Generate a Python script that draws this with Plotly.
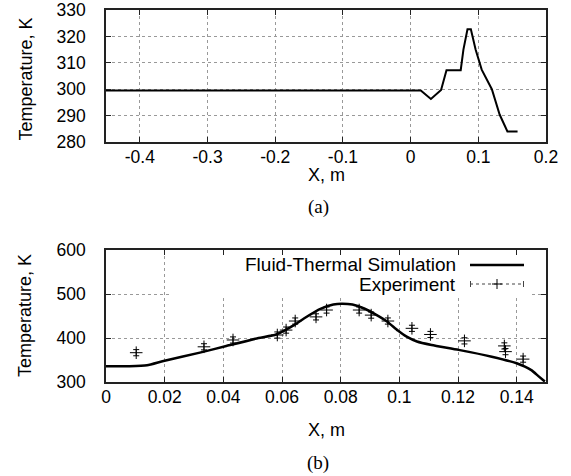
import plotly.graph_objects as go

W, H = 571, 476

# ---- data: panel (a) ----
a_x = [-0.45, 0.015, 0.03, 0.045, 0.053, 0.074, 0.078, 0.084, 0.089, 0.096, 0.105, 0.12, 0.1315, 0.143, 0.158]
a_T = [299.5, 299.5, 296.3, 299.7, 307.2, 307.2, 315, 322.7, 322.7, 315, 307.4, 300, 290.4, 284, 284]
a_xticks = [-0.4, -0.3, -0.2, -0.1, 0, 0.1, 0.2]
a_xticktext = ["-0.4", "-0.3", "-0.2", "-0.1", "0", "0.1", "0.2"]
a_yticks = [280, 290, 300, 310, 320, 330]

# ---- data: panel (b) ----
sim_x = [0.0, 0.008, 0.014, 0.0196, 0.032, 0.041, 0.052, 0.058, 0.0645, 0.0676, 0.0733, 0.0775,
         0.0803, 0.084, 0.088, 0.092, 0.0959, 0.0995, 0.1025, 0.106, 0.111, 0.1202, 0.1315, 0.14,
         0.145, 0.1473, 0.1496]
sim_T = [336, 336, 338, 347.7, 366.7, 381.8, 400, 408, 431, 445, 467, 476,
         478, 476, 467, 453, 437, 417, 403, 392, 384, 373, 357.5, 342.5,
         327, 314, 301]
exp_x = [0.0103, 0.0334, 0.0433, 0.0584, 0.0614, 0.0645, 0.0716, 0.0752, 0.0863, 0.0904, 0.0961,
         0.1043, 0.1106, 0.1222, 0.1358, 0.1362, 0.1422]
exp_T = [366.6, 380, 395.5, 406.8, 418, 438.6, 448, 463.6, 463.6, 452, 438.6,
         422, 408, 393.5, 382, 369, 352]
exp_err = [7] * len(exp_x)
b_xticks = [0, 0.02, 0.04, 0.06, 0.08, 0.1, 0.12, 0.14]
b_xticktext = ["0", "0.02", "0.04", "0.06", "0.08", "0.1", "0.12", "0.14"]
b_yticks = [300, 400, 500, 600]

FONT = "Liberation Sans, Arial, sans-serif"
SERIF = "Liberation Serif, Times New Roman, serif"

def px(x):
    return x / W

def py(y):
    return 1 - y / H

fig = go.Figure()
fig.add_trace(go.Scatter(x=a_x, y=a_T, mode="lines", line=dict(color="black", width=2),
                         xaxis="x", yaxis="y", showlegend=False))
fig.add_trace(go.Scatter(x=sim_x, y=sim_T, mode="lines", line=dict(color="black", width=2.5, shape="spline", smoothing=0.5),
                         xaxis="x2", yaxis="y2", showlegend=False))
fig.add_trace(go.Scatter(x=exp_x, y=exp_T, mode="markers",
                         marker=dict(symbol="cross-thin", size=9, color="black", line=dict(color="black", width=1)),
                         error_y=dict(type="data", array=exp_err, visible=True, color="black", thickness=1, width=3),
                         xaxis="x2", yaxis="y2", showlegend=False))

common_axis = dict(showline=True, linecolor="#222", linewidth=1.5, mirror="ticks",
                   ticks="inside", ticklen=5, tickcolor="#222", tickwidth=1,
                   showgrid=True, gridcolor="#999", griddash="dot", gridwidth=1,
                   zeroline=False, automargin=False,
                   tickfont=dict(family=FONT, size=17.5, color="black"))

xdom = [px(106), px(546)]
fig.update_layout(
    width=W, height=H,
    margin=dict(l=0, r=0, t=0, b=0),
    paper_bgcolor="white", plot_bgcolor="white",
    font=dict(family=FONT, size=17, color="black"),
    xaxis=dict(domain=xdom, anchor="y", range=[-0.45, 0.2], tickvals=a_xticks, ticktext=a_xticktext,
               ticklabelstandoff=-2, **common_axis),
    yaxis=dict(domain=[py(142), py(10)], anchor="x", range=[280, 330], tickvals=a_yticks,
               ticklabelstandoff=15, **common_axis),
    xaxis2=dict(domain=xdom, anchor="y2", range=[0, 0.15], tickvals=b_xticks, ticktext=b_xticktext,
                ticklabelstandoff=-2, **common_axis),
    yaxis2=dict(domain=[py(382), py(250)], anchor="x2", range=[300, 600], tickvals=b_yticks,
                ticklabelstandoff=15, **common_axis),
)

ann = []
def text(x, y, s, size=18, family=FONT, angle=0, xanchor="center", yanchor="middle"):
    ann.append(dict(x=px(x), y=py(y), xref="paper", yref="paper", text=s, showarrow=False,
                    font=dict(family=family, size=size, color="black"), textangle=angle,
                    xanchor=xanchor, yanchor=yanchor))

text(326, 175, "X, m")
text(318, 207, "(a)", size=19, family=SERIF)
text(326, 430, "X, m")
text(318, 463, "(b)", size=19, family=SERIF)
text(25, 143, "Temperature, K", angle=-90, yanchor="bottom")
text(25, 316, "Temperature, K", angle=-90)
text(458, 264, "Fluid-Thermal Simulation", size=19, xanchor="right")
text(458, 284.5, "Experiment", size=19, xanchor="right")

shapes = [
    # opaque key box
    dict(type="rect", xref="paper", yref="paper", x0=px(172), x1=px(532), y0=py(296), y1=py(256),
         fillcolor="white", line=dict(width=0), layer="above"),
    dict(type="line", xref="paper", yref="paper", x0=px(470), x1=px(524), y0=py(265), y1=py(265),
         line=dict(color="black", width=2.5), layer="above"),
    dict(type="line", xref="paper", yref="paper", x0=px(470), x1=px(524), y0=py(284), y1=py(284),
         line=dict(color="#444", width=1, dash="dot"), layer="above"),
    dict(type="line", xref="paper", yref="paper", x0=px(470.5), x1=px(470.5), y0=py(281), y1=py(287),
         line=dict(color="#444", width=1), layer="above"),
    dict(type="line", xref="paper", yref="paper", x0=px(523.5), x1=px(523.5), y0=py(281), y1=py(287),
         line=dict(color="#444", width=1), layer="above"),
    dict(type="line", xref="paper", yref="paper", x0=px(497), x1=px(497), y0=py(279), y1=py(289),
         line=dict(color="black", width=1), layer="above"),
    dict(type="line", xref="paper", yref="paper", x0=px(492), x1=px(502), y0=py(284), y1=py(284),
         line=dict(color="black", width=1), layer="above"),
]
fig.update_layout(annotations=ann, shapes=shapes)

fig.write_html("out.html", config={"displayModeBar": False},
               post_script="document.body.style.margin='0';document.body.style.overflow='hidden';")
